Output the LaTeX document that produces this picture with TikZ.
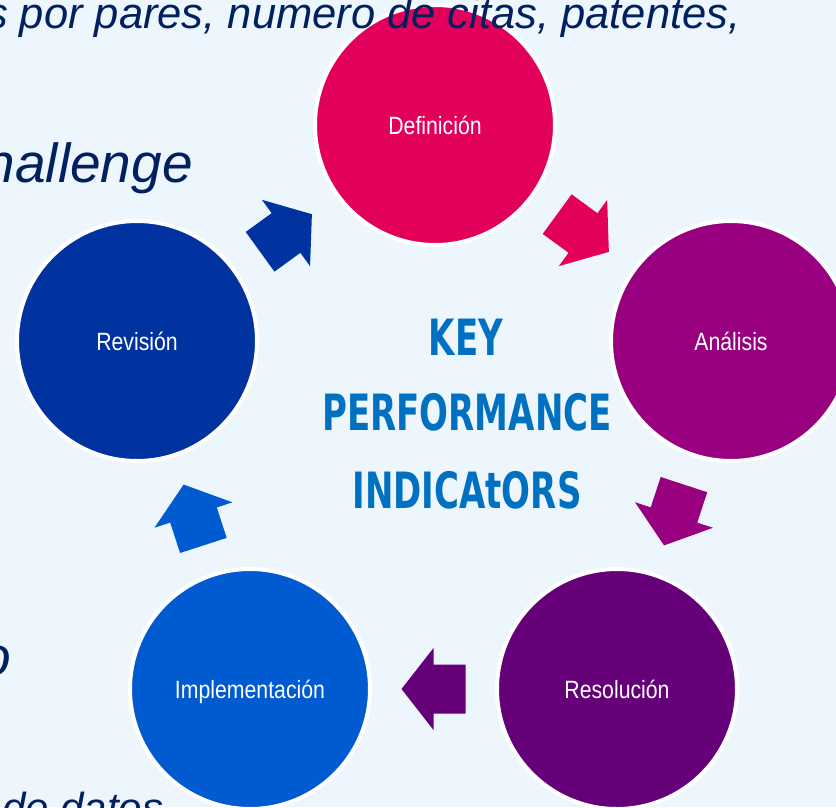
\documentclass[tikz,border=0pt]{standalone}
\usepackage{fontspec}
\newfontfamily\lblfont{Liberation Sans}[FakeStretch=0.85]
\newfontfamily\bgfont{Liberation Sans}
\newfontfamily\kpifont{DejaVu Sans}[FakeStretch=0.68]
\definecolor{bgc}{HTML}{EDF6FD}
\definecolor{cpink}{HTML}{E3005A}
\definecolor{cmag}{HTML}{990080}
\definecolor{cpurp}{HTML}{660078}
\definecolor{cblue}{HTML}{005BD1}
\definecolor{cdblue}{HTML}{0033A0}
\definecolor{cnavy}{HTML}{002060}
\definecolor{ckpi}{HTML}{0070C0}
\tikzset{
  stage/.style={circle, minimum size=240pt, draw=white, line width=4pt, fill=#1,
    text=white, font=\lblfont\fontsize{25}{30}\selectfont,
    text height=18pt, text depth=0pt, inner sep=0pt},
  bgtext/.style={text=cnavy, inner sep=0pt, font=\bgfont\itshape\fontsize{#1}{#1}\selectfont},
  kpi/.style={text=ckpi, inner sep=0pt, anchor=base, font=\kpifont\bfseries\fontsize{50}{60}\selectfont},
  pics/barrow/.style={code={
    \fill[#1] (-32,-24.5) -- (0,-24.5) -- (0,-41) -- (32,0) -- (0,41) -- (0,24.5) -- (-32,24.5) -- cycle;}}
}
\begin{document}
\begin{tikzpicture}[x=1pt,y=-1pt]
\useasboundingbox (0,0) rectangle (836,807);
\clip (0,0) rectangle (836,807);
\fill[bgc] (0,0) rectangle (836,807);
% stages
\node[stage=cpink] (def) at (435,125) {Definición};
\node[stage=cmag] (ana) at (731,341) {Análisis};
\node[stage=cpurp] (res) at (617,689) {Resolución};
\node[stage=cblue] (imp) at (250,689) {Implementación};
\node[stage=cdblue] (rev) at (137,341) {Revisión};
% block arrows
\path (def) -- (ana) pic[pos=0.5, sloped, allow upside down]{barrow=cpink};
\path (ana) -- (res) pic[pos=0.5, sloped, allow upside down]{barrow=cmag};
\path (res) -- (imp) pic[pos=0.5, sloped, allow upside down]{barrow=cpurp};
\path (imp) -- (rev) pic[pos=0.5, sloped, allow upside down]{barrow=cblue};
\path (rev) -- (def) pic[pos=0.5, sloped, allow upside down]{barrow=cdblue};
% centre title
\node[kpi] (key) at (466,355) {KEY};
\node[kpi] (perf) at (467,430) {PERFORMANCE};
\node[kpi] (ind) at (467,508) {INDICAtORS};
% background text fragments
\node[bgtext=43.5, anchor=base west] (t1) at (-14,28) {s por pares, numero de citas, patentes,};
\node[bgtext=55, anchor=base east] (t2) at (193,182) {hallenge};
\node[bgtext=55, anchor=base east] (t3) at (11,675) {o};
\node[bgtext=42, anchor=base west] (t4) at (2,822) {de datos};
\end{tikzpicture}
\end{document}
